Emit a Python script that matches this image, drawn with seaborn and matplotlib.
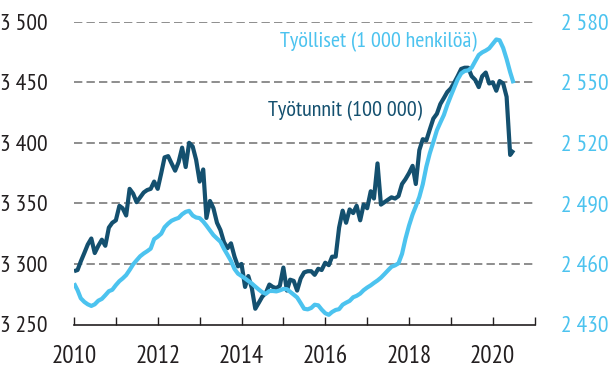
import numpy as np
import pandas as pd
import matplotlib
matplotlib.use("Agg")
import matplotlib.pyplot as plt
import matplotlib.dates as mdates
from matplotlib.ticker import FixedLocator, FuncFormatter
import seaborn as sns

# Monthly series, January 2010 onwards
tyotunnit = [  # hours worked, 100 000 h
    3294, 3295, 3302, 3309, 3316, 3321, 3309, 3315, 3320, 3315, 3330, 3334,
    3336, 3348, 3346, 3340, 3362, 3358, 3351, 3355, 3359, 3361, 3362, 3368,
    3362, 3375, 3388, 3389, 3383, 3377, 3384, 3396, 3380, 3400, 3397, 3386,
    3368, 3378, 3338, 3352, 3346, 3334, 3328, 3318, 3313, 3317, 3306, 3298,
    3300, 3281, 3290, 3280, 3263, 3268, 3273, 3276, 3283, 3281, 3280, 3282,
    3297, 3278, 3287, 3286, 3278, 3288, 3293, 3294, 3294, 3291, 3296, 3295,
    3301, 3299, 3306, 3306, 3330, 3344, 3334, 3345, 3342, 3348, 3336, 3349,
    3346, 3360, 3354, 3383, 3349, 3351, 3353, 3355, 3354, 3356, 3366, 3370,
    3375, 3381, 3366, 3394, 3403, 3402, 3411, 3420, 3424, 3432, 3437, 3442,
    3445, 3450, 3455, 3461, 3462, 3462, 3455, 3452, 3446, 3455, 3458, 3449,
    3450, 3443, 3451, 3449, 3438, 3390, 3394,
]
tyolliset = [  # employed persons, 1 000
    2450.4, 2447.0, 2443.0, 2441.2, 2440.0, 2439.2, 2440.0, 2441.8, 2442.7, 2444.5, 2446.5, 2447.2,
    2449.5, 2451.5, 2452.8, 2454.5, 2457.0, 2459.8, 2461.8, 2463.8, 2465.2, 2466.3, 2467.6, 2472.3,
    2473.5, 2475.0, 2478.2, 2480.0, 2481.4, 2482.2, 2482.8, 2484.6, 2485.8, 2486.3, 2484.0, 2483.0,
    2482.7, 2481.0, 2479.0, 2476.6, 2474.3, 2472.6, 2471.0, 2467.5, 2464.5, 2461.5, 2457.5, 2455.2,
    2454.0, 2452.8, 2451.6, 2450.3, 2448.8, 2447.3, 2446.0, 2445.2, 2446.6, 2446.6, 2446.4, 2446.9,
    2447.6, 2447.5, 2446.2, 2444.8, 2443.4, 2440.6, 2437.8, 2437.5, 2438.2, 2439.8, 2439.5, 2437.4,
    2435.6, 2434.8, 2436.2, 2437.2, 2437.6, 2439.8, 2440.8, 2441.7, 2443.5, 2444.2, 2445.3, 2447.0,
    2448.3, 2449.4, 2450.6, 2451.8, 2453.2, 2455.0, 2456.8, 2458.6, 2459.3, 2460.3, 2465.0, 2472.5,
    2479.0, 2484.5, 2488.5, 2493.2, 2499.5, 2508.2, 2514.8, 2520.4, 2526.2, 2530.0, 2533.8, 2538.8,
    2543.3, 2547.6, 2551.4, 2554.4, 2555.6, 2555.9, 2557.2, 2560.4, 2563.5, 2564.8, 2565.7, 2566.8,
    2569.0, 2571.2, 2570.8, 2567.0, 2561.5, 2555.0, 2549.5,
]
left_ticks = [3250, 3300, 3350, 3400, 3450, 3500]
right_ticks = [2430, 2460, 2490, 2520, 2550, 2580]
label_hours = "Työtunnit (100 000)"
label_employed = "Työlliset (1 000 henkilöä)"

DARK = "#14506f"
LIGHT = "#4cc3ef"
TEXT = "#231f20"

sns.set_theme(style="white")
plt.rcParams["font.family"] = ["PT Sans Narrow", "DejaVu Sans"]

df = pd.DataFrame({
    "kk": pd.date_range("2010-01-01", periods=len(tyotunnit), freq="MS"),
    "tyotunnit": tyotunnit,
    "tyolliset": tyolliset,
})

fig = plt.figure(figsize=(6.09, 3.74), dpi=100)
ax = fig.add_axes([74 / 609, 49.5 / 374, 460.7 / 609, 302.8 / 374])
ax2 = ax.twinx()

sns.lineplot(data=df, x="kk", y="tyotunnit", ax=ax, color=DARK, lw=3.0,
             solid_capstyle="butt", solid_joinstyle="round")
sns.lineplot(data=df, x="kk", y="tyolliset", ax=ax2, color=LIGHT, lw=3.0,
             solid_capstyle="butt", solid_joinstyle="round")

fmt = FuncFormatter(lambda v, p: f"{int(v):,}".replace(",", " "))

ax.set_ylim(3250, 3500)
ax.yaxis.set_major_locator(FixedLocator(left_ticks))
ax.yaxis.set_major_formatter(fmt)
ax2.set_ylim(2430, 2580)
ax2.yaxis.set_major_locator(FixedLocator(right_ticks))
ax2.yaxis.set_major_formatter(fmt)

ax.set_xlim(pd.Timestamp("2010-01-01"), pd.Timestamp("2021-01-01"))
ax.xaxis.set_major_locator(mdates.YearLocator(1))
ax.xaxis.set_major_formatter(FuncFormatter(
    lambda v, p: (str(mdates.num2date(v).year) if mdates.num2date(v).year % 2 == 0 else "")))

for a in (ax, ax2):
    a.set_xlabel("")
    a.set_ylabel("")
    for s in ("left", "right", "top", "bottom"):
        a.spines[s].set_visible(False)
    a.grid(False)

ax.spines["bottom"].set_visible(True)
ax.spines["bottom"].set_color(TEXT)
ax.spines["bottom"].set_linewidth(1.2)

ax.tick_params(axis="x", direction="in", length=5.5, width=1.0, color=TEXT,
               pad=15, labelsize=18, labelcolor=TEXT, bottom=True)
ax.tick_params(axis="y", length=0, pad=19, labelsize=17, labelcolor=TEXT, left=True)
ax2.tick_params(axis="y", length=0, pad=19, labelsize=17, labelcolor=LIGHT, right=True)

# dashed horizontal guides
for y in left_ticks[1:]:
    ax.axhline(y, color="#7a7a7a", lw=1.2, ls=(0, (5, 2.5)), zorder=0)

fig.text(378 / 609, 1 - 42 / 374, label_employed, color=LIGHT, fontsize=16,
         ha="center", va="center")
fig.text(345.5 / 609, 1 - 111 / 374, label_hours, color=DARK, fontsize=16,
         ha="center", va="center")

fig.savefig("out.png", dpi=100)
